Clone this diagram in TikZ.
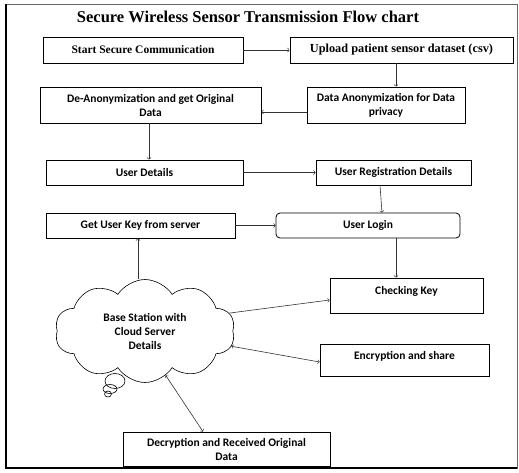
\documentclass[tikz,border=0pt]{standalone}
\usepackage{fontspec}
\setmainfont{Liberation Serif}
\newfontfamily\boxfont{Carlito}
\usetikzlibrary{shapes.symbols}

\begin{document}
\begin{tikzpicture}[x=1pt,y=-1pt,
  box/.style={draw=black, line width=0.8pt, inner sep=0pt, align=center,
    font=\boxfont\bfseries\fontsize{11.5}{14}\selectfont},
  serifbox/.style={box, font=\bfseries\fontsize{11.5}{13}\selectfont},
  link/.style={draw=black!80, line width=0.6pt, ->},
  twoway/.style={draw=black!80, line width=0.6pt, <->}]
\useasboundingbox (0,0) rectangle (519,472);
\draw [black!60, line width=0.6pt] (5,4) rectangle (517,468);
\draw [line width=2.5pt] (6,4) -- (6,468) -- (517,468);

\coordinate (T) at (248,17);
\coordinate (A) at (143,50);
\coordinate (B) at (401.5,50);
\coordinate (C) at (386,105);
\coordinate (D) at (150.5,105);
\coordinate (E) at (144.5,172.5);
\coordinate (F) at (393.5,172.5);
\coordinate (G) at (140.5,225.5);
\coordinate (H) at (368,225.5);
\coordinate (I) at (406.5,295.5);
\coordinate (J) at (404.5,360);
\coordinate (K) at (226.5,449);
\coordinate (L) at (145,331);

\node [font=\bfseries\fontsize{16.5}{18}\selectfont] (title) at (T)
  {Secure Wireless Sensor Transmission Flow chart};

\node [serifbox, minimum width=200, minimum height=26] (start) at (A) {Start Secure Communication};
\node [serifbox, minimum width=223, minimum height=26, font=\bfseries\fontsize{12.3}{14}\selectfont] (upload) at (B) {Upload patient sensor dataset (csv)};
\node [box, minimum width=158, minimum height=36] (anon) at (C) {Data Anonymization for Data\\privacy};
\node [box, minimum width=221, minimum height=36] (deanon) at (D) {De-Anonymization and get Original\\Data};
\node [box, minimum width=197, minimum height=25] (user) at (E) {User Details};
\node [box, minimum width=155, minimum height=25] (reg) at (F) {User Registration Details};
\node [box, minimum width=189, minimum height=25] (key) at (G) {Get User Key from server};
\node [box, minimum width=184, minimum height=25, rounded corners=4pt] (login) at (H) {User Login};
\node [box, minimum width=153, inner ysep=4pt, text height=12pt, text depth=15pt] (check) at (I) {Checking Key};
\node [box, minimum width=169, inner ysep=4pt, text height=11pt, text depth=13pt] (enc) at (J) {Encryption and share};
\node [box, minimum width=207, minimum height=34] (dec) at (K) {Decryption and Received Original\\Data};
\node [box, cloud, cloud puffs=10, cloud puff arc=115, aspect=1.8,
  minimum width=180, minimum height=103, line width=0.6pt] (cloud) at (L)
  {Base Station with\\Cloud Server\\Details};

% thought bubbles under the cloud
\draw [line width=0.6pt] (115,381) ellipse (10 and 7.5);
\draw [line width=0.6pt] (110,389) ellipse (7 and 4.5);
\draw [line width=0.6pt] (108,394) ellipse (3.5 and 3);

\draw [link] (start.east) -- (upload.west);
\draw [link] ([xshift=-5.5pt]upload.south) -- ([xshift=-5.5pt]upload.south |- anon.north);
\draw [link] ([yshift=-7pt]anon.west) -- ([yshift=-7pt]anon.west -| deanon.east);
\draw [link] ([xshift=-1.5pt]deanon.south) -- ([xshift=-1.5pt]deanon.south |- user.north);
\draw [link] (user.east) -- (reg.west);
\draw [link] ([xshift=-13.5pt]reg.south) -- ([xshift=14pt]login.north);
\draw [link] (key.east) -- (login.west);
\draw [link] ([xshift=28pt]login.south) -- ([xshift=28pt]login.south |- check.north);
\draw [link] ([xshift=-7pt]cloud.north) -- ([xshift=-7pt]cloud.north |- key.south);
\draw [link] (cloud.12) -- ([yshift=-4.5pt]check.west);
\draw [twoway] (cloud.-10) -- ([yshift=-2pt]enc.west);
\draw [twoway] (cloud.-65) -- ([xshift=-23.5pt]dec.north);
\end{tikzpicture}
\end{document}
